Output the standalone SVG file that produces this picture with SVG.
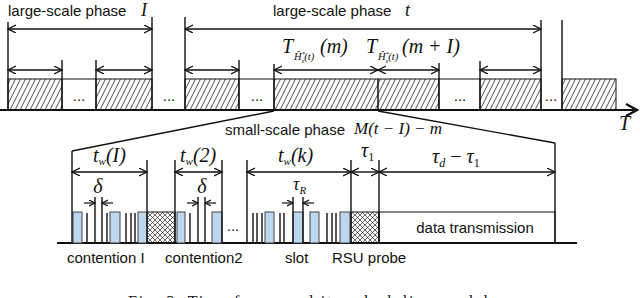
<svg xmlns="http://www.w3.org/2000/svg" width="640" height="298" viewBox="0 0 640 298">
<style>
.s{font-family:"Liberation Sans",Arial,sans-serif;font-size:15px;fill:#111}
.m{font-family:"Liberation Serif","Times New Roman",serif;font-style:italic;font-size:20px;fill:#111}
.ln{stroke:#111;stroke-width:1.4;fill:none}
.thin{stroke:#111;stroke-width:1;fill:none}
.ar{stroke:#111;stroke-width:1.4;fill:none;marker-start:url(#ah);marker-end:url(#ah)}
.sa{stroke:#111;stroke-width:1.2;fill:none;marker-end:url(#sh)}
.hat{fill:url(#hatch);stroke:#111;stroke-width:1}
.xh{fill:url(#cross);stroke:#111;stroke-width:1}
.bl{fill:#bdd7ee;stroke:#444;stroke-width:1}
.sub{font-size:11px}
.up{font-style:normal}
</style>
<defs>
<marker id="ah" viewBox="0 0 10 10" refX="8" refY="4" markerWidth="10" markerHeight="10" markerUnits="userSpaceOnUse" orient="auto-start-reverse">
<path d="M0,0 L8,4 L0,8" fill="none" stroke="#111" stroke-width="1.3"/>
</marker>
<marker id="sh" viewBox="0 0 8 8" refX="6" refY="3" markerWidth="8" markerHeight="8" markerUnits="userSpaceOnUse" orient="auto">
<path d="M0,0 L6,3 L0,6" fill="none" stroke="#111" stroke-width="1.2"/>
</marker>
<pattern id="hatch" patternUnits="userSpaceOnUse" width="5" height="10">
<path d="M0,10 L5,0 M-1,2 L1,-2 M4,12 L6,8" stroke="#222" stroke-width="0.8"/>
</pattern>
<pattern id="cross" patternUnits="userSpaceOnUse" width="5" height="5">
<path d="M0,0 L5,5 M5,0 L0,5" stroke="#222" stroke-width="0.7"/>
</pattern>
</defs>
<rect width="640" height="298" fill="#fff"/>

<g id="phase-1">
<rect class="hat" x="8" y="79" width="54" height="31"/>
<rect class="hat" x="96" y="79" width="56" height="31"/>
<line class="thin" x1="62" y1="79" x2="96" y2="79"/>
<line class="ln" x1="8" y1="22" x2="8" y2="110"/>
<line class="ln" x1="152" y1="17" x2="152" y2="110"/>
<line class="ln" x1="62" y1="60" x2="62" y2="110"/>
<line class="ln" x1="96" y1="60" x2="96" y2="110"/>
<text class="s" x="79" y="101" text-anchor="middle">...</text>
<text class="s" x="8" y="16">large-scale phase</text>
<text class="m" x="141" y="16" style="font-size:18px">I</text>
</g>

<g id="gap-dots">
<text class="s" x="169" y="101" text-anchor="middle">...</text>
</g>

<g id="phase-t">
<rect class="hat" x="185" y="79" width="54" height="31"/>
<rect class="hat" x="274" y="79" width="104" height="31"/>
<rect class="hat" x="378" y="79" width="61" height="31"/>
<rect class="hat" x="480" y="79" width="61" height="31"/>
<rect class="hat" x="562" y="79" width="54" height="31"/>
<line class="thin" x1="239" y1="79" x2="274" y2="79"/>
<line class="thin" x1="439" y1="79" x2="480" y2="79"/>
<line class="ln" x1="185" y1="17" x2="185" y2="110"/>
<line class="ln" x1="541" y1="20" x2="541" y2="110"/>
<line class="ln" x1="562" y1="20" x2="562" y2="110"/>
<line class="ln" x1="239" y1="60" x2="239" y2="110"/>
<line class="ln" x1="274" y1="64" x2="274" y2="110"/>
<line class="ln" x1="439" y1="63" x2="439" y2="110"/>
<line class="ln" x1="480" y1="61" x2="480" y2="110"/>
<text class="s" x="257" y="101" text-anchor="middle">...</text>
<text class="s" x="460" y="101" text-anchor="middle">...</text>
<text class="s" x="551" y="101" text-anchor="middle">...</text>
<text class="s" x="273" y="16">large-scale phase</text>
<text class="m" x="405" y="16" style="font-size:18px">t</text>
<text class="m" x="282" y="53">T</text>
<text class="m" x="294" y="60" style="font-size:10.5px">Ĥ<tspan style="font-size:7px" dy="-4">*</tspan><tspan style="font-size:7px" dx="-3.5" dy="7">s</tspan><tspan dy="-3">(t)</tspan></text>
<text class="m" x="320" y="53">(m)</text>
<text class="m" x="366" y="53">T</text>
<text class="m" x="378" y="60" style="font-size:10.5px">Ĥ<tspan style="font-size:7px" dy="-4">*</tspan><tspan style="font-size:7px" dx="-3.5" dy="7">s</tspan><tspan dy="-3">(t)</tspan></text>
<text class="m" x="402" y="53">(m + I)</text>
</g>

<g id="time-axis">
<line x1="0" y1="110" x2="634" y2="110" stroke="#111" stroke-width="2.2"/>
<polyline points="626,104 637,110 626,116" fill="none" stroke="#111" stroke-width="2.4"/>
<text class="m" x="619" y="130">T</text>
</g>

<g id="small-scale">
<line x1="57" y1="243" x2="577" y2="243" stroke="#111" stroke-width="2"/>
<rect class="xh" x="147" y="212" width="28" height="31"/>
<rect class="xh" x="351" y="212" width="28" height="31"/>
<rect x="379" y="212" width="176" height="31" fill="none" stroke="#111" stroke-width="1"/>
<text class="s" x="475" y="233" text-anchor="middle">data transmission</text>
<rect class="bl" x="73" y="212" width="9" height="31"/>
<rect class="bl" x="110" y="212" width="10" height="31"/>
<rect class="bl" x="138" y="212" width="9" height="31"/>
<line class="ln" x1="87" y1="213" x2="87" y2="243"/>
<line class="ln" x1="95" y1="197" x2="95" y2="243"/>
<line class="ln" x1="102" y1="197" x2="102" y2="243"/>
<line class="ln" x1="107" y1="213" x2="107" y2="243"/>
<line class="ln" x1="126" y1="213" x2="126" y2="243"/>
<line class="ln" x1="131" y1="213" x2="131" y2="243"/>
<line class="ln" x1="135" y1="213" x2="135" y2="243"/>
<rect class="bl" x="177" y="212" width="8" height="31"/>
<rect class="bl" x="212" y="212" width="10" height="31"/>
<line class="ln" x1="190" y1="213" x2="190" y2="243"/>
<line class="ln" x1="198" y1="197" x2="198" y2="243"/>
<line class="ln" x1="205" y1="197" x2="205" y2="243"/>
<text class="s" x="233" y="231" text-anchor="middle">...</text>
<rect class="bl" x="265" y="212" width="9" height="31"/>
<rect class="bl" x="293" y="212" width="10" height="31"/>
<rect class="bl" x="310" y="212" width="9" height="31"/>
<rect class="bl" x="340" y="212" width="10" height="31"/>
<line class="ln" x1="253" y1="213" x2="253" y2="243"/>
<line class="ln" x1="257" y1="213" x2="257" y2="243"/>
<line class="ln" x1="262" y1="213" x2="262" y2="243"/>
<line class="ln" x1="280" y1="213" x2="280" y2="243"/>
<line class="ln" x1="284" y1="213" x2="284" y2="243"/>
<line class="ln" x1="293" y1="197" x2="293" y2="243"/>
<line class="ln" x1="303" y1="197" x2="303" y2="243"/>
<line class="ln" x1="327" y1="213" x2="327" y2="243"/>
<line class="ln" x1="332" y1="213" x2="332" y2="243"/>
<line class="ln" x1="336" y1="213" x2="336" y2="243"/>
<line class="ln" x1="72" y1="151" x2="72" y2="243"/>
<line class="ln" x1="555" y1="143" x2="555" y2="243"/>
<line class="ln" x1="147" y1="160" x2="147" y2="243"/>
<line class="ln" x1="175" y1="160" x2="175" y2="243"/>
<line class="ln" x1="222" y1="160" x2="222" y2="243"/>
<line class="ln" x1="247" y1="160" x2="247" y2="243"/>
<line class="ln" x1="351" y1="160" x2="351" y2="243"/>
<line class="ln" x1="379" y1="160" x2="379" y2="243"/>
<text class="s" x="225" y="135">small-scale phase</text>
<text class="m" x="354" y="134" style="font-size:17px">M(t − I) − m</text>
<text class="m" x="93" y="162">t<tspan class="sub" dy="3">w</tspan><tspan dy="-3">(I)</tspan></text>
<text class="m" x="180" y="162">t<tspan class="sub" dy="3">w</tspan><tspan dy="-3">(2)</tspan></text>
<text class="m" x="278" y="162">t<tspan class="sub" dy="3">w</tspan><tspan dy="-3">(k)</tspan></text>
<text class="m" x="361" y="157">τ<tspan class="sub up" style="font-size:12px" dy="4">1</tspan></text>
<text class="m" x="432" y="163">τ<tspan style="font-size:12px" dy="4">d</tspan><tspan class="up" dy="-4"> − </tspan>τ<tspan class="up" style="font-size:12px" dy="4">1</tspan></text>
<text class="m" x="98" y="193" text-anchor="middle">δ</text>
<text class="m" x="202" y="193" text-anchor="middle">δ</text>
<text class="m" x="293" y="190" style="font-size:18px">τ<tspan class="sub" dy="4">R</tspan></text>
<text class="s" x="67" y="263">contention I</text>
<text class="s" x="165" y="263">contention2</text>
<text class="s" x="285" y="263">slot</text>
<text class="s" x="332" y="263">RSU probe</text>
</g>

<g id="connectors">
<line class="ar" x1="8" y1="29" x2="152" y2="29"/>
<line class="ar" x1="185" y1="29" x2="541" y2="29"/>
<line class="ar" x1="8" y1="70" x2="62" y2="70"/>
<line class="ar" x1="96" y1="70" x2="152" y2="70"/>
<line class="ar" x1="185" y1="70" x2="239" y2="70"/>
<line class="ar" x1="274" y1="70" x2="378" y2="70"/>
<line class="ar" x1="378" y1="70" x2="439" y2="70"/>
<line class="ar" x1="480" y1="70" x2="541" y2="70"/>
<line class="ln" x1="274" y1="111" x2="72" y2="151"/>
<line class="ln" x1="378" y1="111" x2="555" y2="143"/>
<line class="ar" x1="72" y1="172" x2="147" y2="172"/>
<line class="ar" x1="175" y1="172" x2="222" y2="172"/>
<line class="ar" x1="247" y1="172" x2="351" y2="172"/>
<line class="ar" x1="351" y1="172" x2="379" y2="172"/>
<line class="ar" x1="379" y1="172" x2="555" y2="172"/>
<line class="sa" x1="84" y1="203" x2="95" y2="203"/>
<line class="sa" x1="113" y1="203" x2="102" y2="203"/>
<line class="sa" x1="187" y1="203" x2="198" y2="203"/>
<line class="sa" x1="216" y1="203" x2="205" y2="203"/>
<line class="sa" x1="282" y1="203" x2="293" y2="203"/>
<line class="sa" x1="314" y1="203" x2="303" y2="203"/>
</g>

<text x="128" y="307" font-family="'Liberation Serif','Times New Roman',serif" font-size="16" fill="#111" textLength="360" lengthAdjust="spacing">Fig. 2.   Time frame and its scheduling model</text>
</svg>
